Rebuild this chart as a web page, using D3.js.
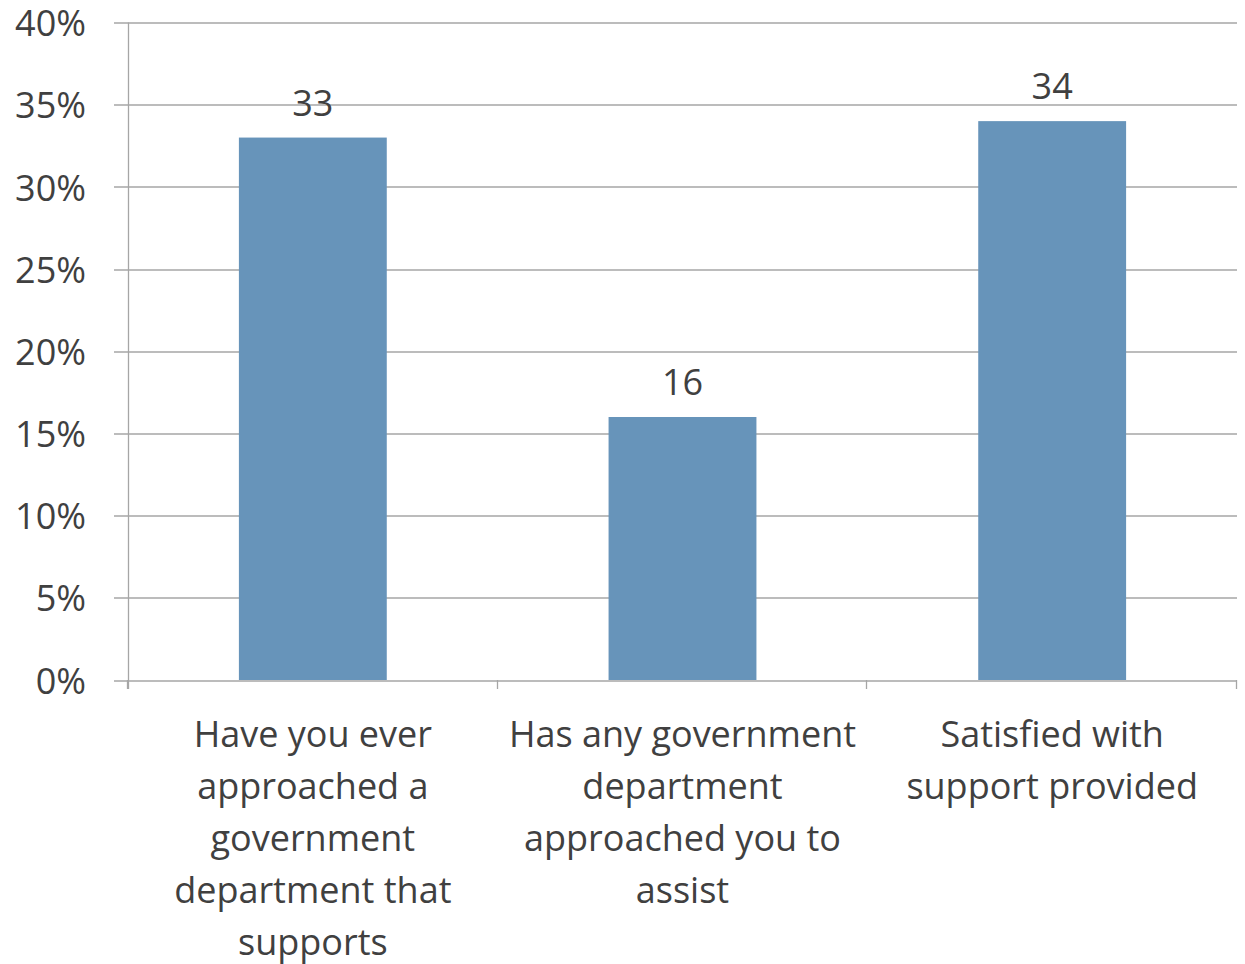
<!DOCTYPE html>
<html>
<head>
<meta charset="utf-8">
<script src="https://cdn.jsdelivr.net/npm/d3@7"></script>
<style>
  body { margin: 0; background: #fff; }
  text { font-family: "Open Sans", sans-serif; fill: #404040; }
</style>
</head>
<body>
<div class="chart"></div>
<script>
// data
const categories = [
  "Have you ever approached a government department that supports",
  "Has any government department approached you to assist",
  "Satisfied with support provided"
];
const categoryLines = [
  ["Have you ever", "approached a", "government", "department that", "supports"],
  ["Has any government", "department", "approached you to", "assist"],
  ["Satisfied with", "support provided"]
];
const values = [33, 16, 34];
const yTicks = [0, 5, 10, 15, 20, 25, 30, 35, 40];

const W = 1245, H = 964;
const margin = {top: 22.5, right: 8, bottom: 284, left: 128};
const w = W - margin.left - margin.right;
const h = H - margin.top - margin.bottom;

const svg = d3.select(".chart").append("svg")
    .attr("width", W)
    .attr("height", H);

const g = svg.append("g")
    .attr("transform", "translate(" + margin.left + "," + margin.top + ")");

let x = d3.scaleBand()
    .domain(categories)
    .range([0, w])
    .paddingInner(0.6)
    .paddingOuter(0.3);

let y = d3.scaleLinear()
    .domain([0, 40])
    .range([h, 0]);

// gridlines + left ticks
g.selectAll(".grid")
  .data(yTicks)
  .enter()
  .append("line")
  .attr("x1", -14)
  .attr("x2", w)
  .attr("y1", d => Math.round(y(d)) + 0.5)
  .attr("y2", d => Math.round(y(d)) + 0.5)
  .attr("stroke", "#a6a6a6")
  .attr("stroke-width", 1.3);

g.selectAll(".ylab")
  .data(yTicks)
  .enter()
  .append("text")
  .attr("x", -42)
  .attr("y", d => y(d))
  .attr("dy", "0.38em")
  .attr("text-anchor", "end")
  .style("font-size", "36px")
  .text(d => d + "%");

// y axis line
g.append("line")
  .attr("x1", 0.5).attr("x2", 0.5)
  .attr("y1", 0).attr("y2", h + 9)
  .attr("stroke", "#a6a6a6")
  .attr("stroke-width", 1.3);

// x ticks at category boundaries
const bounds = d3.range(categories.length + 1).map(i => i * w / categories.length);
g.selectAll(".xtick")
  .data(bounds)
  .enter()
  .append("line")
  .attr("x1", d => Math.round(d) - 0.5)
  .attr("x2", d => Math.round(d) - 0.5)
  .attr("y1", h)
  .attr("y2", h + 9)
  .attr("stroke", "#a6a6a6")
  .attr("stroke-width", 1.3);

// bars
g.selectAll(".bar")
  .data(values)
  .enter()
  .append("rect")
  .attr("x", (d, i) => x(categories[i]))
  .attr("width", x.bandwidth())
  .attr("y", d => y(d))
  .attr("height", d => h - y(d))
  .attr("fill", "#6794ba");

// value labels
g.selectAll(".vlab")
  .data(values)
  .enter()
  .append("text")
  .attr("x", (d, i) => x(categories[i]) + x.bandwidth() / 2)
  .attr("y", d => y(d) - 22)
  .attr("text-anchor", "middle")
  .style("font-size", "36px")
  .text(d => d);

// category labels
categoryLines.forEach((lines, i) => {
  let t = g.append("text")
    .attr("text-anchor", "middle")
    .style("font-size", "36px");
  lines.forEach((l, j) => {
    t.append("tspan")
      .attr("x", x(categories[i]) + x.bandwidth() / 2)
      .attr("y", h + 67 + j * 52)
      .text(l);
  });
});
</script>
</body>
</html>
